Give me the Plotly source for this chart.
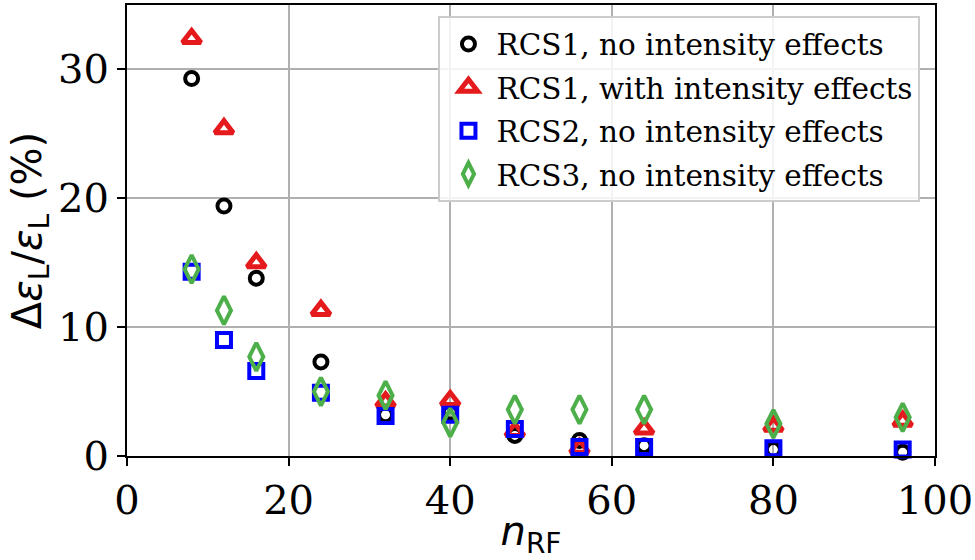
import plotly.graph_objects as go

n_rf = [8, 12, 16, 24, 32, 40, 48, 56, 64, 80, 96]

rcs1_no = [29.3, 19.4, 13.8, 7.3, 3.2, 3.4, 1.6, 1.2, 0.8, 0.5, 0.3]
rcs1_with = [32.4, 25.4, 15.0, 11.3, 4.2, 4.3, 1.9, 0.6, 2.1, 2.3, 2.7]
rcs2_no = [14.3, 9.0, 6.6, 4.9, 3.1, 3.2, 2.1, 0.7, 0.7, 0.6, 0.5]
rcs3_no = [14.5, 11.3, 7.7, 5.0, 4.7, 2.6, 3.6, 3.6, 3.6, 2.5, 3.0]

names = [
    "RCS1, no intensity effects",
    "RCS1, with intensity effects",
    "RCS2, no intensity effects",
    "RCS3, no intensity effects",
]
series = [rcs1_no, rcs1_with, rcs2_no, rcs3_no]
colors = ["#000000", "#e41a1c", "#0000ff", "#4daf4a"]
symbols = ["circle-open", "triangle-up-open", "square-open", "diamond-tall-open"]
sizes = [13, 16, 14, 20]
widths = [4, 5, 4, 4]

fig = go.Figure()
for nm, ys, c, s, sz, w in zip(names, series, colors, symbols, sizes, widths):
    fig.add_trace(go.Scatter(
        x=n_rf, y=ys, mode="markers", name=nm, legendgroup=nm,
        marker=dict(symbol=s, size=sz, color=c, line=dict(color=c, width=w)),
        cliponaxis=False,
    ))

serif = "DejaVu Serif"
sans = "DejaVu Sans"

fig.update_layout(
    width=975, height=560,
    margin=dict(l=127, r=40, t=5, b=104, autoexpand=False),
    paper_bgcolor="white", plot_bgcolor="white",
    font=dict(family=serif, size=36, color="black"),
    showlegend=True,
    legend=dict(
        x=0.982, y=0.975, xanchor="right", yanchor="top",
        font=dict(family=serif, size=29.5, color="black"),
        bgcolor="rgba(255,255,255,0.85)", bordercolor="#cccccc", borderwidth=2,
        traceorder="grouped", tracegroupgap=2,
        itemwidth=46,
    ),
    xaxis=dict(
        range=[0, 100], dtick=20, tick0=0, automargin=False,
        showgrid=True, gridcolor="#b0b0b0", gridwidth=1.5,
        showline=True, linecolor="black", linewidth=2, mirror=True,
        ticks="outside", ticklen=8, tickwidth=2, tickcolor="black",
        tickfont=dict(family=serif, size=40),
        zeroline=False,
        title=dict(text="<i>n</i><sub>RF</sub>", font=dict(family=sans, size=40), standoff=0),
    ),
    yaxis=dict(
        range=[0, 35], dtick=10, tick0=0, automargin=False,
        showgrid=True, gridcolor="#b0b0b0", gridwidth=1.5,
        showline=True, linecolor="black", linewidth=2, mirror=True,
        ticks="outside", ticklen=8, tickwidth=2, tickcolor="black",
        tickfont=dict(family=serif, size=40),
        zeroline=False,
        title=dict(text="Δ<i>ε</i><sub>L</sub>/<i>ε</i><sub>L</sub> (%)", font=dict(family=sans, size=40), standoff=4),
    ),
)

fig.write_html(
    "out.html",
    config={"displayModeBar": False},
    post_script="document.body.style.margin='0';document.body.style.overflow='hidden';",
)
